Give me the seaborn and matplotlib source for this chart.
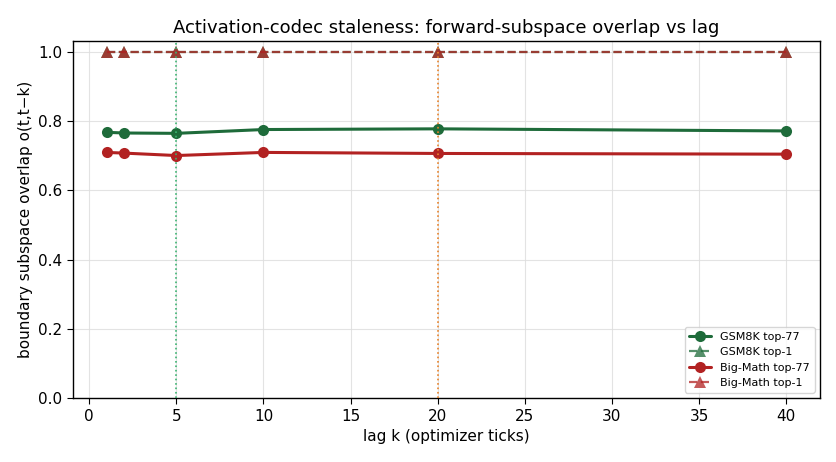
import seaborn as sns
import numpy as np
import pandas as pd
import matplotlib.pyplot as plt

lags = [1, 2, 5, 10, 20, 40]
gsm8k_top77 = [0.767, 0.765, 0.764, 0.775, 0.777, 0.771]
gsm8k_top1 = [1.0, 1.0, 1.0, 1.0, 1.0, 1.0]
bigmath_top77 = [0.709, 0.707, 0.700, 0.709, 0.706, 0.704]
bigmath_top1 = [1.0, 1.0, 1.0, 1.0, 1.0, 1.0]
marked_lags = [5, 20]

green = "#1e6b3a"
red = "#b22222"

sns.set_style("whitegrid")
plt.rcParams['font.family'] = ['DejaVu Sans']
plt.rcParams['text.color'] = 'black'
plt.rcParams['axes.labelcolor'] = 'black'
plt.rcParams['xtick.color'] = 'black'
plt.rcParams['ytick.color'] = 'black'

fig, ax = plt.subplots(figsize=(8.36, 4.62), dpi=100)

sns.lineplot(x=lags, y=gsm8k_top77, ax=ax, color=green, linewidth=2.2,
             marker='o', markersize=8, markeredgewidth=0, label="GSM8K top-77")
sns.lineplot(x=lags, y=gsm8k_top1, ax=ax, color=green, linewidth=1.6, alpha=0.75,
             linestyle='--', marker='^', markersize=8, markeredgewidth=0,
             label="GSM8K top-1")
sns.lineplot(x=lags, y=bigmath_top77, ax=ax, color=red, linewidth=2.2,
             marker='o', markersize=8, markeredgewidth=0, label="Big-Math top-77")
sns.lineplot(x=lags, y=bigmath_top1, ax=ax, color=red, linewidth=1.6, alpha=0.75,
             linestyle='--', marker='^', markersize=8, markeredgewidth=0,
             label="Big-Math top-1")

ax.axvline(x=marked_lags[0], color="#3cb371", linestyle=':', linewidth=1.2, zorder=5)
ax.axvline(x=marked_lags[1], color="#e8822a", linestyle=':', linewidth=1.2, zorder=5)

ax.set_ylim(0, 1.03)
ax.set_title("Activation-codec staleness: forward-subspace overlap vs lag", fontsize=13)
ax.set_xlabel("lag k (optimizer ticks)", fontsize=11)
ax.set_ylabel("boundary subspace overlap o(t,t\u2212k)", fontsize=11)
ax.tick_params(labelsize=11, length=4, color='black', bottom=True, left=True)
for s in ax.spines.values():
    s.set_color('black')
    s.set_linewidth(1)
ax.grid(True, color='#dddddd', linewidth=0.8, alpha=0.8)
ax.legend(loc='lower right', fontsize=8, frameon=True)

fig.subplots_adjust(left=0.087, right=0.981, top=0.911, bottom=0.138)
fig.savefig("out.png", dpi=100)
